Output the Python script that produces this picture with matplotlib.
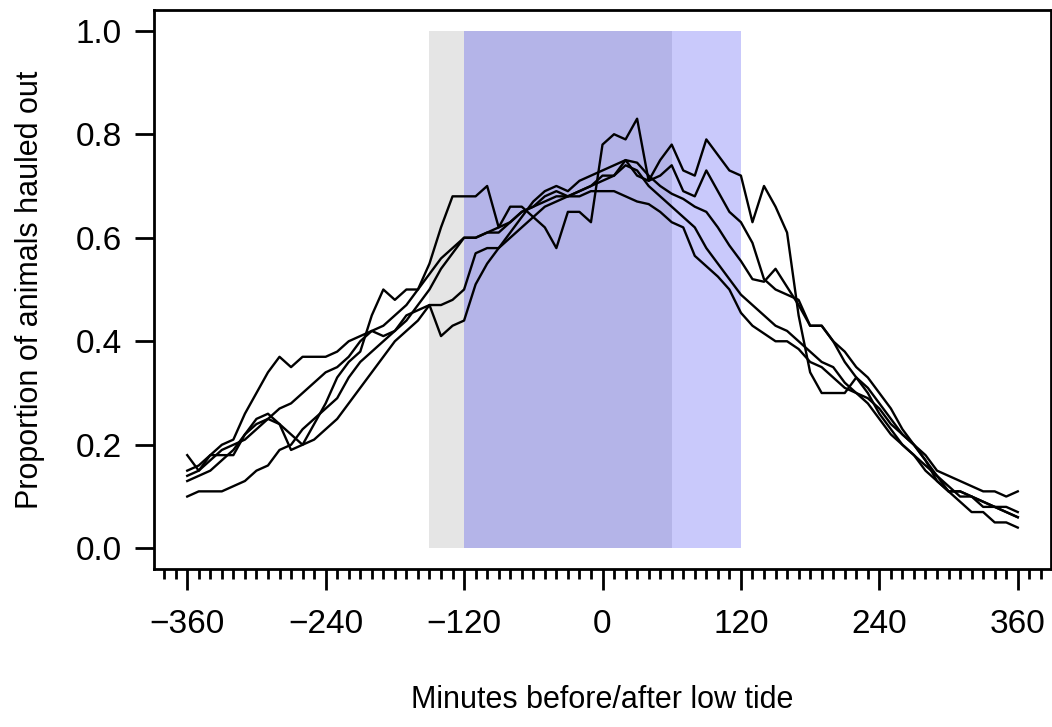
import numpy as np
import matplotlib
matplotlib.use("Agg")
import matplotlib.pyplot as plt
from matplotlib.ticker import FixedLocator, MultipleLocator

plt.rcParams['font.family'] = ['Liberation Sans', 'DejaVu Sans']

# minutes relative to low tide, one value every 10 minutes
minutes = np.arange(-360, 361, 10)

# proportion of animals hauled out, five series
series_a = [0.15, 0.16, 0.18, 0.20, 0.21, 0.26, 0.30, 0.34, 0.37, 0.35,
            0.37, 0.37, 0.37, 0.38, 0.40, 0.41, 0.42, 0.41, 0.42, 0.44,
            0.47, 0.50, 0.54, 0.57, 0.60, 0.60, 0.61, 0.61, 0.63, 0.65,
            0.66, 0.68, 0.69, 0.68, 0.68, 0.69, 0.69, 0.69, 0.68, 0.67,
            0.665, 0.65, 0.63, 0.62, 0.565, 0.545, 0.525, 0.50, 0.455, 0.43,
            0.415, 0.40, 0.40, 0.385, 0.36, 0.35, 0.33, 0.31, 0.30, 0.28,
            0.25, 0.22, 0.20, 0.18, 0.16, 0.14, 0.12, 0.10, 0.10, 0.09,
            0.08, 0.08, 0.07]
series_b = [0.13, 0.14, 0.15, 0.17, 0.19, 0.22, 0.25, 0.26, 0.24, 0.19,
            0.20, 0.24, 0.28, 0.33, 0.36, 0.38, 0.45, 0.50, 0.48, 0.50,
            0.50, 0.55, 0.62, 0.68, 0.68, 0.68, 0.70, 0.62, 0.66, 0.66,
            0.64, 0.62, 0.58, 0.65, 0.65, 0.63, 0.78, 0.80, 0.79, 0.83,
            0.71, 0.75, 0.78, 0.73, 0.72, 0.79, 0.76, 0.73, 0.72, 0.63,
            0.70, 0.66, 0.61, 0.45, 0.34, 0.30, 0.30, 0.30, 0.33, 0.31,
            0.28, 0.25, 0.22, 0.20, 0.17, 0.14, 0.11, 0.11, 0.10, 0.08,
            0.08, 0.07, 0.06]
series_c = [0.10, 0.11, 0.11, 0.11, 0.12, 0.13, 0.15, 0.16, 0.19, 0.20,
            0.23, 0.25, 0.27, 0.29, 0.33, 0.36, 0.38, 0.40, 0.42, 0.45,
            0.46, 0.47, 0.41, 0.43, 0.44, 0.51, 0.55, 0.58, 0.61, 0.64,
            0.67, 0.69, 0.70, 0.69, 0.71, 0.72, 0.73, 0.74, 0.75, 0.72,
            0.71, 0.72, 0.74, 0.69, 0.68, 0.73, 0.69, 0.65, 0.63, 0.59,
            0.52, 0.50, 0.49, 0.48, 0.43, 0.43, 0.40, 0.36, 0.33, 0.30,
            0.26, 0.23, 0.20, 0.18, 0.15, 0.13, 0.11, 0.09, 0.07, 0.07,
            0.05, 0.05, 0.04]
series_d = [0.18, 0.15, 0.17, 0.19, 0.20, 0.21, 0.23, 0.25, 0.27, 0.28,
            0.30, 0.32, 0.34, 0.35, 0.37, 0.40, 0.42, 0.43, 0.45, 0.47,
            0.50, 0.53, 0.56, 0.58, 0.60, 0.60, 0.61, 0.62, 0.63, 0.65,
            0.66, 0.67, 0.68, 0.68, 0.69, 0.70, 0.71, 0.72, 0.75, 0.745,
            0.72, 0.70, 0.685, 0.675, 0.66, 0.65, 0.62, 0.585, 0.555, 0.52,
            0.515, 0.54, 0.505, 0.47, 0.43, 0.43, 0.40, 0.38, 0.35, 0.33,
            0.30, 0.27, 0.23, 0.20, 0.18, 0.15, 0.14, 0.13, 0.12, 0.11,
            0.11, 0.10, 0.11]
series_e = [0.14, 0.15, 0.18, 0.18, 0.18, 0.22, 0.24, 0.25, 0.24, 0.22,
            0.20, 0.21, 0.23, 0.25, 0.28, 0.31, 0.34, 0.37, 0.40, 0.42,
            0.44, 0.47, 0.47, 0.48, 0.50, 0.57, 0.58, 0.58, 0.60, 0.62,
            0.64, 0.66, 0.67, 0.68, 0.69, 0.70, 0.72, 0.72, 0.74, 0.73,
            0.70, 0.68, 0.66, 0.64, 0.62, 0.58, 0.55, 0.52, 0.49, 0.47,
            0.45, 0.43, 0.42, 0.40, 0.38, 0.36, 0.35, 0.32, 0.30, 0.29,
            0.27, 0.24, 0.22, 0.20, 0.17, 0.13, 0.11, 0.11, 0.10, 0.09,
            0.08, 0.07, 0.06]

# shaded time windows (start, end, colour)
shade_start = [-150, -120, 60]
shade_end = [-120, 60, 120]
shade_color = ['#e5e5e5', '#b4b4e8', '#c9c9fb']

xticks = [-360, -240, -120, 0, 120, 240, 360]
yticks = [0.0, 0.2, 0.4, 0.6, 0.8, 1.0]

fig = plt.figure(figsize=(10.52, 7.27), dpi=100)
ax = fig.add_axes([154 / 1052, 158 / 727, 897 / 1052, 559 / 727])

for x0, x1, c in zip(shade_start, shade_end, shade_color):
    ax.fill_between([x0, x1], 0, 1, color=c, lw=0, zorder=1)

for s in (series_a, series_b, series_c, series_d, series_e):
    ax.plot(minutes, s, color='black', lw=1.7, zorder=3)

ax.set_xlim(-388.8, 388.8)
ax.set_ylim(-0.04, 1.04)

ax.xaxis.set_major_locator(FixedLocator(xticks))
ax.xaxis.set_minor_locator(MultipleLocator(10))
ax.set_xticklabels(['\u2212360', '\u2212240', '\u2212120', '0', '120', '240', '360'])
ax.set_yticks(yticks)
ax.set_yticklabels(['%.1f' % v for v in yticks])

ax.tick_params(axis='x', which='major', direction='out', length=15, width=2,
               labelsize=24, pad=14)
ax.tick_params(axis='x', which='minor', direction='out', length=7.5, width=2)
ax.tick_params(axis='y', which='major', direction='out', length=14, width=2,
               labelsize=24, pad=9)

for sp in ax.spines.values():
    sp.set_linewidth(2)

fig.text(602 / 1052, 1 - 700 / 727, 'Minutes before/after low tide',
         ha='center', va='center', fontsize=22)
fig.text(30 / 1052, 1 - 290 / 727, 'Proportion of animals hauled out',
         ha='center', va='center', rotation=90, fontsize=22)

fig.savefig('out.png', dpi=100)
